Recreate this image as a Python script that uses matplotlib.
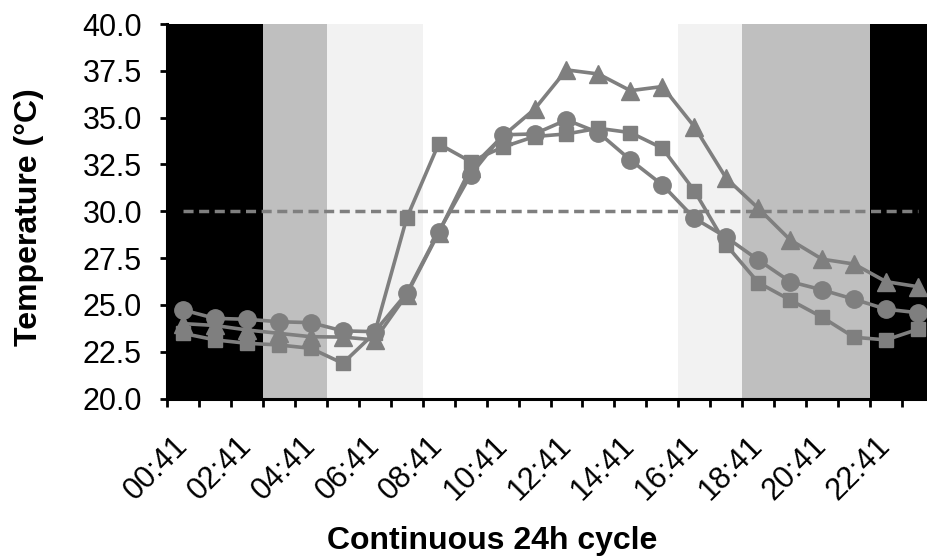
'''
    24h temperature cycle chart

    three loggers, hourly readings, with the day phases shaded behind
'''
import matplotlib
matplotlib.use('Agg')
import matplotlib.pyplot as plt

HOURS = ['%02d:41' % h for h in range(24)]

# readings per logger (degrees C)
CIRCLES = [24.73, 24.28, 24.23, 24.10, 24.05, 23.61, 23.57, 25.62,
           28.91, 31.94, 34.08, 34.13, 34.88, 34.20, 32.74, 31.41,
           29.63, 28.61, 27.40, 26.24, 25.80, 25.30, 24.77, 24.58]
SQUARES = [23.48, 23.13, 22.95, 22.86, 22.68, 21.88, 23.50, 29.63,
           33.60, 32.65, 33.42, 33.99, 34.13, 34.43, 34.20, 33.37,
           31.10, 28.20, 26.19, 25.26, 24.34, 23.27, 23.13, 23.70]
TRIANGLES = [24.00, 23.90, 23.66, 23.48, 23.30, 23.28, 23.13, 25.55,
             28.85, 32.30, 34.00, 35.45, 37.55, 37.33, 36.44, 36.66,
             34.52, 31.76, 30.16, 28.47, 27.44, 27.18, 26.24, 25.97]
THRESHOLD = [30.0] * 24

# day phases, as first and last-but-one hour index
PHASE_START = [0, 3, 5, 8, 16, 18, 22]
PHASE_END = [3, 5, 8, 16, 18, 22, 24]
PHASE_COLORS = ['#000000', '#BFBFBF', '#F2F2F2', '#FFFFFF',
                '#F2F2F2', '#BFBFBF', '#000000']

Y_TICKS = [20 + 2.5 * i for i in range(9)]

GREY = '#7F7F7F'


def chart():
    ''' draw the chart and save it'''
    plt.rcParams['font.family'] = ['Liberation Sans', 'DejaVu Sans']
    fig = plt.figure(figsize=(9.27, 5.58), dpi=100)
    ax = fig.add_axes([167 / 927, 1 - 398.5 / 558, 767 / 927, 374.5 / 558])

    for start, end, colour in zip(PHASE_START, PHASE_END, PHASE_COLORS):
        ax.axvspan(start - 0.5, end - 0.5, color=colour, lw=0, zorder=0)

    x = list(range(len(HOURS)))
    ax.plot(x, THRESHOLD, color=GREY, lw=2.5, dashes=(2.9, 1.6), zorder=2)
    ax.plot(x, SQUARES, color=GREY, lw=2.6, marker='s', ms=10, zorder=3)
    ax.plot(x, TRIANGLES, color=GREY, lw=2.6, marker='^', ms=12.5, zorder=3)
    ax.plot(x, CIRCLES, color=GREY, lw=2.6, marker='o', ms=12.5, zorder=3)

    ax.set_xlim(-0.5, len(HOURS) - 0.5)
    ax.set_ylim(20, 40)

    ax.set_yticks(Y_TICKS)
    ax.set_yticklabels(['%.1f' % t for t in Y_TICKS], fontsize=22)
    ax.tick_params(axis='y', direction='out', length=5, width=2, pad=13)

    ax.set_xticks(x[::2])
    ax.set_xticklabels(HOURS[::2], fontsize=22, rotation=45, ha='right',
                       va='center', rotation_mode='anchor')
    ax.tick_params(axis='x', which='major', length=0, pad=31)
    ax.set_xticks([i - 0.5 for i in range(len(HOURS) + 1)], minor=True)
    ax.tick_params(axis='x', which='minor', direction='out', length=6, width=2)

    for side in ['top', 'right']:
        ax.spines[side].set_visible(False)
    for side in ['left', 'bottom']:
        ax.spines[side].set_linewidth(2.2)
        ax.spines[side].set_color('black')

    ax.set_ylabel('Temperature (°C)', fontsize=23, fontweight='bold')
    ax.yaxis.set_label_coords(-0.160, 0.483)
    fig.text(492 / 927, 9 / 558, 'Continuous 24h cycle', fontsize=23,
             fontweight='bold', ha='center', va='baseline')

    fig.savefig('out.png', dpi=100)


def main():
    ''' main function'''
    chart()


if __name__ == '__main__':
    main()
